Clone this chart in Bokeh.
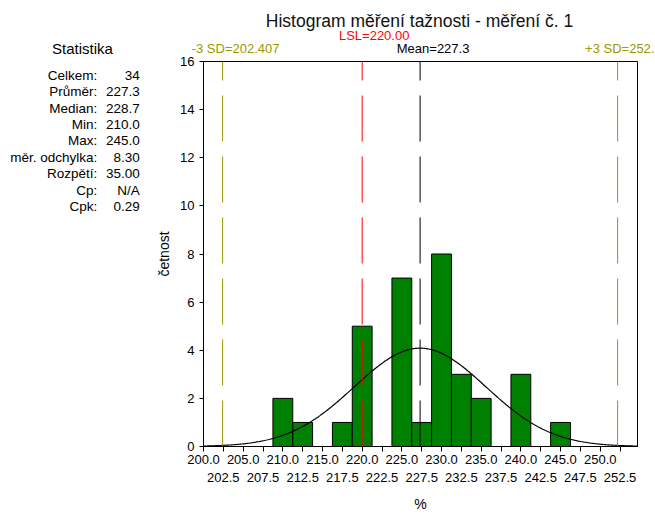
import numpy as np
from bokeh.plotting import figure
from bokeh.layouts import row, column
from bokeh.models import Range1d, FixedTicker, LinearAxis, PrintfTickFormatter
from bokeh.core.properties import value
from bokeh.embed import file_html
from bokeh.resources import INLINE

# ---- data ----
bin_centers = [210.0, 212.5, 217.5, 220.0, 225.0, 227.5, 230.0, 232.5, 235.0, 240.0, 245.0]
counts = [2, 1, 1, 5, 7, 1, 8, 3, 2, 3, 1]
bin_width = 2.5

n_total = 34
mean = 227.3
lsl = 220.0
minus3sd = 202.407
plus3sd = 252.193
sd = (plus3sd - minus3sd) / 6.0

row1_ticks = [200.0, 205.0, 210.0, 215.0, 220.0, 225.0, 230.0, 235.0, 240.0, 245.0, 250.0]
row2_ticks = [202.5, 207.5, 212.5, 217.5, 222.5, 227.5, 232.5, 237.5, 242.5, 247.5, 252.5]
y_ticks = [0, 2, 4, 6, 8, 10, 12, 14, 16]

stat_labels = ["Celkem:", "Průměr:", "Median:", "Min:", "Max:", "měr. odchylka:", "Rozpětí:", "Cp:", "Cpk:"]
stat_values = ["34", "227.3", "228.7", "210.0", "245.0", "8.30", "35.00", "N/A", "0.29"]

title_text = "Histogram měření tažnosti - měření č. 1"
x_start, x_end = 200.0, 254.7
y_start, y_end = 0, 16

FONT = "Liberation Sans"
OLIVE = "#999900"

# ---- layout geometry (pixels) ----
W, H = 655, 514
TOP_H = 56                 # caption strip across the whole width
STATS_W = 150              # statistics column left of the plot
P_W = W - STATS_W
P_H = H - TOP_H
B_LEFT, B_RIGHT, B_TOP, B_BOTTOM = 53, 18, 5, 66
frame_left = STATS_W + B_LEFT
frame_right = W - B_RIGHT
frame_top = TOP_H + B_TOP
frame_bottom = H - B_BOTTOM
px_per_unit = (frame_right - frame_left) / (x_end - x_start)
DY = 3                     # small baseline correction


def blank(fig):
    fig.title = None
    fig.grid.visible = False
    fig.outline_line_color = None
    fig.background_fill_color = "white"
    fig.border_fill_color = "white"


# ---- caption strip: same x scale as the histogram frame ----
tp_x0 = x_start - frame_left / px_per_unit
tp = figure(width=W, height=TOP_H, output_backend="svg", toolbar_location=None,
            x_range=Range1d(tp_x0, x_end + (W - frame_right) / px_per_unit),
            y_range=Range1d(TOP_H, 0),
            x_axis_location=None, y_axis_location=None,
            min_border=0, min_border_left=0, min_border_right=0,
            min_border_top=0, min_border_bottom=0)
blank(tp)
tp.text(x=[(x_start + x_end) / 2], y=[23.3 - DY], text=[title_text], x_offset=-1,
        text_align="center", text_baseline="alphabetic", text_font=value(FONT),
        text_font_size="17.5px", text_color="#111111")
tp.text(x=[lsl], y=[37.7 - DY], text=[f"LSL={lsl:.2f}"], x_offset=12,
        text_align="center", text_baseline="alphabetic", text_font=value(FONT),
        text_font_size="13px", text_color="red")
cap_x = [minus3sd, mean, plus3sd]
cap_text = [f"-3 SD={minus3sd:.3f}", f"Mean={mean:.1f}", f"+3 SD={plus3sd:.3f}"]
cap_col = [OLIVE, "black", OLIVE]
tp.text(x=cap_x, y=[51 - DY] * 3, text=cap_text, x_offset=13, text_color=cap_col,
        text_align="center", text_baseline="alphabetic", text_font=value(FONT),
        text_font_size="13px")
tp.text(x=[tp_x0], y=[50.5 - DY], text=["Statistika"], x_offset=82,
        text_align="center", text_baseline="alphabetic", text_font=value(FONT),
        text_font_size="15px", text_color="black")

# ---- statistics column (frame aligned with the histogram frame; y in page pixels) ----
sp = figure(width=STATS_W, height=P_H, output_backend="svg", toolbar_location=None,
            x_range=Range1d(0, STATS_W), y_range=Range1d(frame_bottom, frame_top),
            x_axis_location=None, y_axis_location=None,
            min_border=0, min_border_left=0, min_border_right=0,
            min_border_top=B_TOP, min_border_bottom=B_BOTTOM)
blank(sp)
row_y = [73.3 + i * 16.46 + 4.7 - DY for i in range(len(stat_labels))]
sp.text(x=[96.7] * len(stat_labels), y=row_y, text=stat_labels, text_align="right",
        text_baseline="alphabetic", text_font=value(FONT), text_font_size="13.5px",
        text_color="black")
sp.text(x=[139.3] * len(stat_values), y=row_y, text=stat_values, text_align="right",
        text_baseline="alphabetic", text_font=value(FONT), text_font_size="13.5px",
        text_color="black")

# ---- main histogram ----
p = figure(width=P_W, height=P_H, output_backend="svg", toolbar_location=None,
           x_range=Range1d(x_start, x_end), y_range=Range1d(y_start, y_end),
           min_border_left=B_LEFT, min_border_right=B_RIGHT,
           min_border_top=B_TOP, min_border_bottom=B_BOTTOM)
p.title = None
p.grid.visible = False
p.outline_line_color = "black"
p.outline_line_width = 1
p.background_fill_color = "white"
p.border_fill_color = "white"

p.vbar(x=bin_centers, top=counts, width=bin_width, bottom=0,
       fill_color="#008000", line_color="black", line_width=1)

xs = np.linspace(x_start, x_end, 400)
ys = n_total * bin_width * np.exp(-0.5 * ((xs - mean) / sd) ** 2) / (sd * np.sqrt(2 * np.pi))
p.line(xs, ys, line_color="black", line_width=1.2)

line_vals = [minus3sd, lsl, mean, plus3sd]
line_cols = [OLIVE, "red", "black", OLIVE]
p.segment(x0=line_vals, y0=[y_start] * 4, x1=line_vals, y1=[y_end] * 4,
          line_color=line_cols, line_width=1, line_dash="46 15")

xa = p.below[0]
xa.ticker = FixedTicker(ticks=row1_ticks, minor_ticks=row2_ticks)
xa.formatter = PrintfTickFormatter(format="%.1f")
xa.major_tick_out = 5
xa.major_tick_in = 0
xa.minor_tick_out = 5
xa.minor_tick_in = 0
xa.minor_tick_line_color = "black"
xa.major_label_standoff = 3
xa.major_label_text_font = FONT
xa.major_label_text_font_size = "13px"
xa.major_label_text_color = "black"
xa.axis_line_color = "black"

xa2 = LinearAxis(ticker=FixedTicker(ticks=row2_ticks),
                 formatter=PrintfTickFormatter(format="%.1f"),
                 axis_line_color=None, major_tick_line_color=None,
                 minor_tick_line_color=None, major_tick_out=0, major_tick_in=0,
                 minor_tick_out=0, minor_tick_in=0,
                 major_label_standoff=6,
                 major_label_text_font=FONT, major_label_text_font_size="13px",
                 major_label_text_color="black",
                 axis_label="%", axis_label_standoff=11,
                 axis_label_text_font=FONT, axis_label_text_font_size="14px",
                 axis_label_text_font_style="normal", axis_label_text_color="black")
p.add_layout(xa2, "below")

ya = p.yaxis[0]
ya.ticker = FixedTicker(ticks=y_ticks)
ya.major_tick_out = 4
ya.major_tick_in = 0
ya.minor_tick_line_color = None
ya.major_label_standoff = 5
ya.major_label_text_font = FONT
ya.major_label_text_font_size = "13px"
ya.major_label_text_color = "black"
ya.axis_line_color = "black"
ya.axis_label = "četnost"
ya.axis_label_standoff = 5
ya.axis_label_text_font = FONT
ya.axis_label_text_font_size = "14px"
ya.axis_label_text_font_style = "normal"
ya.axis_label_text_color = "black"

layout = column(tp, row(sp, p))
open("out.html", "w").write(file_html(layout, INLINE))
